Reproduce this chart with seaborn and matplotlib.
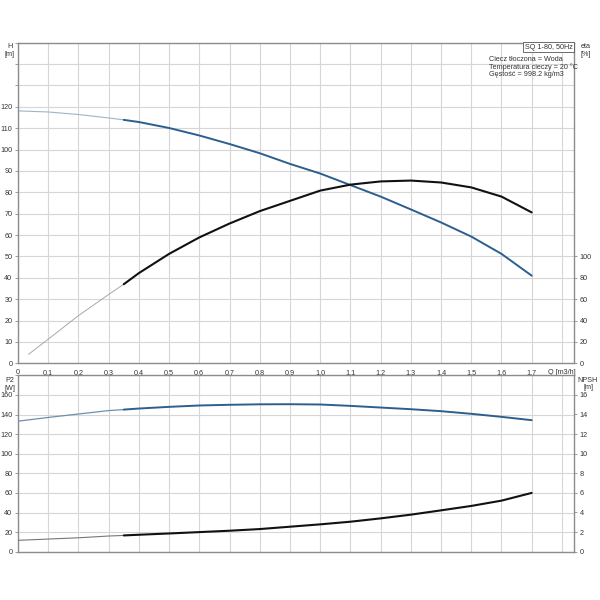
import matplotlib
matplotlib.use("Agg")
import matplotlib.pyplot as plt
import seaborn as sns
import pandas as pd
import numpy as np

# ---- data ----
h_q = [0.0, 0.1, 0.2, 0.3, 0.35, 0.4, 0.5, 0.6, 0.7, 0.8, 0.9, 1.0, 1.1, 1.2, 1.3, 1.4, 1.5, 1.6, 1.7]
h_val = [118.1, 117.6, 116.4, 114.8, 113.9, 112.9, 110.1, 106.6, 102.6, 98.3, 93.3, 88.8, 83.4, 78.0, 72.0, 65.9, 59.3, 51.2, 41.0]

eta_q = [0.035, 0.1, 0.2, 0.3, 0.35, 0.4, 0.5, 0.6, 0.7, 0.8, 0.9, 1.0, 1.1, 1.2, 1.3, 1.4, 1.5, 1.6, 1.7]
eta_val = [8.4, 22.6, 44.6, 64.4, 74.0, 84.4, 102.4, 117.8, 130.8, 142.4, 152.0, 161.6, 167.2, 170.2, 171.0, 169.2, 164.6, 156.0, 141.2]

p2_q = [0.0, 0.1, 0.2, 0.3, 0.35, 0.4, 0.5, 0.6, 0.7, 0.8, 0.9, 1.0, 1.1, 1.2, 1.3, 1.4, 1.5, 1.6, 1.7]
p2_val = [133.2, 137.0, 140.5, 144.0, 145.0, 146.1, 147.8, 149.2, 149.9, 150.4, 150.5, 150.2, 148.8, 147.1, 145.4, 143.4, 140.7, 137.6, 134.2]

npsh_q = [0.0, 0.1, 0.2, 0.3, 0.35, 0.4, 0.5, 0.6, 0.7, 0.8, 0.9, 1.0, 1.1, 1.2, 1.3, 1.4, 1.5, 1.6, 1.7]
npsh_val = [1.16, 1.29, 1.42, 1.60, 1.66, 1.73, 1.86, 2.00, 2.14, 2.31, 2.55, 2.79, 3.06, 3.40, 3.78, 4.22, 4.67, 5.21, 6.00]

q_split = 0.35
x_ticks = [0.0, 0.1, 0.2, 0.3, 0.4, 0.5, 0.6, 0.7, 0.8, 0.9, 1.0, 1.1, 1.2, 1.3, 1.4, 1.5, 1.6, 1.7, 1.8]
x_labels = ["0", "0,1", "0,2", "0,3", "0,4", "0,5", "0,6", "0,7", "0,8", "0,9", "1,0",
            "1,1", "1,2", "1,3", "1,4", "1,5", "1,6", "1,7", "Q [m3/h]"]

h_ticks = [0, 10, 20, 30, 40, 50, 60, 70, 80, 90, 100, 110, 120]
eta_ticks = [0, 20, 40, 60, 80, 100]
p2_ticks = [0, 20, 40, 60, 80, 100, 120, 140, 160]
npsh_ticks = [0, 2, 4, 6, 8, 10, 12, 14, 16]

info_lines = ["Ciecz tłoczona = Woda", "Temperatura cieczy = 20 °C", "Gęstość = 998.2 kg/m3"]
title_box = "SQ 1-80, 50Hz"

# ---- style ----
sns.set_style("white")
plt.rcParams["font.family"] = ["Liberation Sans", "DejaVu Sans"]
FS = 5.2
GRID = "#d6d6d6"
SPINE = "#8c8c8c"
TXT = "#333333"
BLUE = "#2c5f8e"
BLUE_THIN = "#9fb4c8"
BLACK = "#111111"
GRAY_THIN = "#a8a8a8"

fig = plt.figure(figsize=(6, 6), dpi=100)
ax1 = fig.add_axes([0.03, 0.3945, 0.9267, 0.5343])
ax2 = fig.add_axes([0.03, 0.0805, 0.9267, 0.294])


def split(q, v):
    df = pd.DataFrame({"q": q, "v": v})
    return df[df.q <= q_split + 1e-9], df[df.q >= q_split - 1e-9]


def style_axes(ax, xlim, ylim, yticks_grid):
    ax.set_xlim(*xlim)
    ax.set_ylim(*ylim)
    ax.set_xticks(x_ticks)
    ax.set_yticks(yticks_grid)
    ax.grid(True, color=GRID, linewidth=0.8)
    ax.set_axisbelow(True)
    for s in ax.spines.values():
        s.set_color(SPINE)
        s.set_linewidth(1.0)
    ax.tick_params(axis="both", labelsize=FS, colors=SPINE, labelcolor=TXT,
                   length=2.5, width=0.6, pad=1.5)
    ax.set_xlabel("")
    ax.set_ylabel("")


XLIM = (0, 1.84)

# ---------- top panel ----------
style_axes(ax1, XLIM, (0, 150), list(range(0, 151, 10)))
ax1.set_yticklabels([str(t) if t in h_ticks else "" for t in range(0, 151, 10)])
ax1.set_xticklabels(x_labels)

thin, thick = split(h_q, h_val)
sns.lineplot(data=thin, x="q", y="v", ax=ax1, color=BLUE_THIN, linewidth=0.8, sort=False)
sns.lineplot(data=thick, x="q", y="v", ax=ax1, color=BLUE, linewidth=1.4, sort=False)
ax1.set_xlabel(""); ax1.set_ylabel("")

ax1r = ax1.twinx()
ax1r.set_ylim(0, 300)
ax1r.set_yticks(eta_ticks)
ax1r.set_yticklabels([str(t) for t in eta_ticks])
ax1r.grid(False)
for s in ax1r.spines.values():
    s.set_visible(False)
ax1r.tick_params(axis="y", labelsize=FS, colors=SPINE, labelcolor=TXT,
                 length=2.5, width=0.6, pad=1.5)
thin, thick = split(eta_q, eta_val)
sns.lineplot(data=thin, x="q", y="v", ax=ax1r, color=GRAY_THIN, linewidth=0.7, sort=False)
sns.lineplot(data=thick, x="q", y="v", ax=ax1r, color=BLACK, linewidth=1.5, sort=False)
ax1r.set_xlabel(""); ax1r.set_ylabel("")

# labels & info
fig.text(9.5 / 600, 1 - 46 / 600, "H", fontsize=FS, color=TXT, ha="center", va="center")
fig.text(9.5 / 600, 1 - 54 / 600, "[m]", fontsize=FS, color=TXT, ha="center", va="center")
fig.text(586 / 600, 1 - 46 / 600, "eta", fontsize=FS, color=TXT, ha="center", va="center")
fig.text(586 / 600, 1 - 54 / 600, "[%]", fontsize=FS, color=TXT, ha="center", va="center")
ax1.text(0.9975, 0.997, title_box, transform=ax1.transAxes, fontsize=FS, color=TXT,
         ha="right", va="top",
         bbox=dict(boxstyle="square,pad=0.25", facecolor="white", edgecolor="#555555", linewidth=0.6))
for i, line in enumerate(info_lines):
    fig.text(489 / 600, 1 - (59.5 + 7.5 * i) / 600, line, fontsize=FS, color=TXT,
             ha="left", va="center")

# ---------- bottom panel ----------
style_axes(ax2, XLIM, (0, 180), list(range(0, 181, 20)))
ax2.set_yticklabels([str(t) if t in p2_ticks else "" for t in range(0, 181, 20)])
ax2.set_xticklabels([])
ax2.tick_params(axis="x", length=0)

thin, thick = split(p2_q, p2_val)
sns.lineplot(data=thin, x="q", y="v", ax=ax2, color="#6f8fae", linewidth=0.9, sort=False)
sns.lineplot(data=thick, x="q", y="v", ax=ax2, color=BLUE, linewidth=1.4, sort=False)
ax2.set_xlabel(""); ax2.set_ylabel("")

ax2r = ax2.twinx()
ax2r.set_ylim(0, 18)
ax2r.set_yticks(npsh_ticks)
ax2r.set_yticklabels([str(t) for t in npsh_ticks])
ax2r.grid(False)
for s in ax2r.spines.values():
    s.set_visible(False)
ax2r.tick_params(axis="y", labelsize=FS, colors=SPINE, labelcolor=TXT,
                 length=2.5, width=0.6, pad=1.5)
thin, thick = split(npsh_q, npsh_val)
sns.lineplot(data=thin, x="q", y="v", ax=ax2r, color="#777777", linewidth=0.8, sort=False)
sns.lineplot(data=thick, x="q", y="v", ax=ax2r, color=BLACK, linewidth=1.5, sort=False)
ax2r.set_xlabel(""); ax2r.set_ylabel("")

fig.text(10 / 600, 1 - 381 / 600, "P2", fontsize=FS, color=TXT, ha="center", va="center")
fig.text(10 / 600, 1 - 388 / 600, "[W]", fontsize=FS, color=TXT, ha="center", va="center")
fig.text(588 / 600, 1 - 380 / 600, "NPSH", fontsize=FS, color=TXT, ha="center", va="center")
fig.text(588 / 600, 1 - 387.5 / 600, "[m]", fontsize=FS, color=TXT, ha="center", va="center")

fig.savefig("out.png", dpi=100, facecolor="white")
